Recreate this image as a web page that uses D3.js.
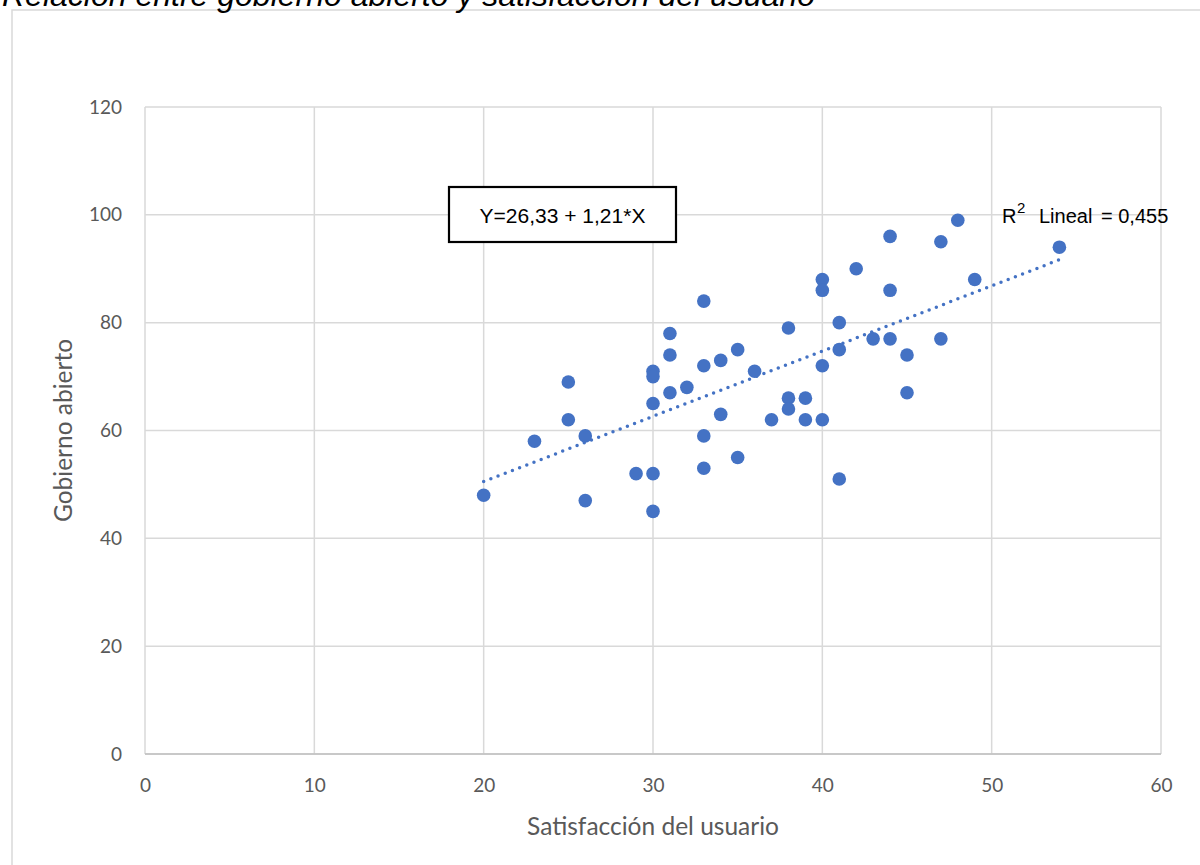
<!DOCTYPE html>
<html>
<head>
<meta charset="utf-8">
<script src="https://cdn.jsdelivr.net/npm/d3@7"></script>
<style>
html,body{margin:0;padding:0;background:#fff;}
svg{display:block;}
</style>
</head>
<body>
<svg id="chart" width="1200" height="865"></svg>
<script>
const title = "Relación entre gobierno abierto y satisfacción del usuario";
const xLabel = "Satisfacción del usuario";
const yLabel = "Gobierno abierto";
const xTicks = [0, 10, 20, 30, 40, 50, 60];
const yTicks = [0, 20, 40, 60, 80, 100, 120];
const satisfaccion = [20,23,25,25,26,26,29,30,30,30,30,30,31,31,31,32,33,33,33,33,34,34,35,35,36,37,38,38,38,39,39,40,40,40,40,41,41,41,42,43,44,44,44,45,45,47,47,48,49,54];
const gobierno =     [48,58,69,62,59,47,52,71,70,65,52,45,78,74,67,68,84,72,59,53,73,63,75,55,71,62,79,66,64,66,62,88,86,72,62,80,75,51,90,77,96,86,77,74,67,95,77,99,88,94];
const trendIntercept = 26.33;
const trendSlope = 1.21;
const equationText = "Y=26,33 + 1,21*X";
const r2Text = "0,455";

const svg = d3.select("#chart");
const plot = {left:145, right:1161, top:107, bottom:754};
const x = d3.scaleLinear().domain([0,60]).range([plot.left, plot.right]);
const y = d3.scaleLinear().domain([0,120]).range([plot.bottom, plot.top]);

// outer chart border
svg.append("rect").attr("x",12).attr("y",10).attr("width",1300).attr("height",1000)
  .attr("fill","#fff").attr("stroke","#d9d9d9").attr("stroke-width",1.5);

// title (partly clipped at top, as in the source figure)
svg.append("text").attr("x",2).attr("y",6)
  .attr("font-family","Liberation Sans, Arial, sans-serif").attr("font-style","italic")
  .attr("font-size",32).attr("fill","#000").text(title);

// gridlines
const gridColor = "#d9d9d9";
svg.append("g").selectAll("line").data(xTicks).join("line")
  .attr("x1",d=>x(d)).attr("x2",d=>x(d)).attr("y1",plot.top).attr("y2",plot.bottom)
  .attr("stroke",gridColor).attr("stroke-width",1.5);
svg.append("g").selectAll("line").data(yTicks).join("line")
  .attr("x1",plot.left).attr("x2",plot.right).attr("y1",d=>y(d)).attr("y2",d=>y(d))
  .attr("stroke",gridColor).attr("stroke-width",1.5);
// bottom axis line
svg.append("line").attr("x1",plot.left).attr("x2",plot.right).attr("y1",y(0)).attr("y2",y(0))
  .attr("stroke","#bfbfbf").attr("stroke-width",1.5);

// axes via d3
const tickFont = "Lato, 'Open Sans', sans-serif";
const xAxis = svg.append("g").attr("transform",`translate(0,${plot.bottom})`)
  .call(d3.axisBottom(x).tickValues(xTicks).tickSize(0).tickPadding(25));
const yAxis = svg.append("g").attr("transform",`translate(${plot.left},0)`)
  .call(d3.axisLeft(y).tickValues(yTicks).tickSize(0).tickPadding(23));
[xAxis,yAxis].forEach(g=>{
  g.select(".domain").remove();
  g.selectAll("text").attr("font-family",tickFont).attr("font-size",19).attr("fill","#595959");
});

// axis titles
svg.append("text").attr("x",(plot.left+plot.right)/2).attr("y",835)
  .attr("text-anchor","middle").attr("font-family",tickFont).attr("font-size",24.5)
  .attr("fill","#595959").text(xLabel);
svg.append("text").attr("transform",`translate(72,${(plot.top+plot.bottom)/2}) rotate(-90)`)
  .attr("text-anchor","middle").attr("font-family",tickFont).attr("font-size",24.5)
  .attr("fill","#595959").text(yLabel);

// trend line (dotted)
const xMin = d3.min(satisfaccion), xMax = d3.max(satisfaccion);
svg.append("line")
  .attr("x1",x(xMin)).attr("y1",y(trendIntercept+trendSlope*xMin))
  .attr("x2",x(xMax)).attr("y2",y(trendIntercept+trendSlope*xMax))
  .attr("stroke","#4472C4").attr("stroke-width",3.5).attr("stroke-linecap","round")
  .attr("stroke-dasharray","0 7.7");

// points
svg.append("g").selectAll("circle").data(satisfaccion.map((s,i)=>({s,g:gobierno[i]}))).join("circle")
  .attr("cx",d=>x(d.s)).attr("cy",d=>y(d.g)).attr("r",6.8).attr("fill","#4472C4");

// equation box
const eq = svg.append("g");
eq.append("rect").attr("x",449).attr("y",187).attr("width",227).attr("height",55)
  .attr("fill","#fff").attr("stroke","#000").attr("stroke-width",2.2);
eq.append("text").attr("x",562.5).attr("y",223).attr("text-anchor","middle")
  .attr("font-family","Liberation Sans, Arial, sans-serif").attr("font-size",21)
  .attr("fill","#000").attr("xml:space","preserve").text(equationText);

// R2 label
const r2 = svg.append("g").attr("font-family","Liberation Sans, Arial, sans-serif").attr("fill","#000");
r2.append("text").attr("x",1002).attr("y",223).attr("font-size",20).text("R");
r2.append("text").attr("x",1017).attr("y",213).attr("font-size",15).text("2");
r2.append("text").attr("x",1039).attr("y",223).attr("font-size",20).text("Lineal");
r2.append("text").attr("x",1101).attr("y",223).attr("font-size",20).text("= " + r2Text);
</script>
</body>
</html>
